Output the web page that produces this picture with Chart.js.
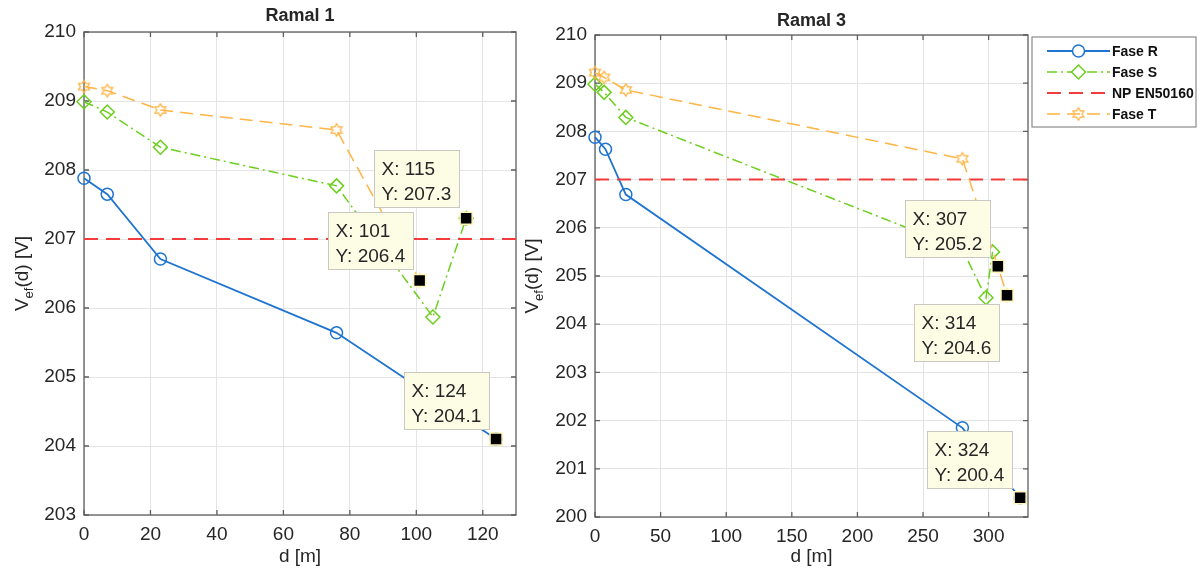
<!DOCTYPE html>
<html>
<head>
<meta charset="utf-8">
<title>Ramal 1 / Ramal 3</title>
<script src="https://cdn.jsdelivr.net/npm/chart.js@4.4.1/dist/chart.umd.min.js"></script>
<style>
  body { margin: 0; background: #fff; }
  #wrap { position: relative; width: 1202px; height: 572px; background: #fff; }
  #wrap canvas { position: absolute; top: 0; }
  #ramal1 { left: 0; }
  #ramal3 { left: 518px; }
</style>
</head>
<body>
<div id="wrap">
  <canvas id="ramal1" width="518" height="572"></canvas>
  <canvas id="ramal3" width="684" height="572"></canvas>
</div>
<script>
const FONT = '"Liberation Sans", Arial, Helvetica, sans-serif';
const TEXT = '#262626';
const AXIS = '#5e5e5e';
const GRID = '#e4e4e4';

// Ramal 1  (d [m] / V [V])
const r1DistR = [0, 7, 23, 76, 124];
const r1VoltR = [207.88, 207.65, 206.71, 205.64, 204.1];
const r1DistS = [0, 7, 23, 76, 105, 115];
const r1VoltS = [208.99, 208.84, 208.33, 207.77, 205.87, 207.3];
const r1DistT = [0, 7, 23, 76, 101];
const r1VoltT = [209.21, 209.15, 208.87, 208.58, 206.4];
const r1TipX = [115, 101, 124];
const r1TipY = [207.3, 206.4, 204.1];
const r1XRange = [0, 130];
const r1YRange = [203, 210];
const r1XTicks = [0, 20, 40, 60, 80, 100, 120];
const r1YTicks = [203, 204, 205, 206, 207, 208, 209, 210];

// Ramal 3
const r3DistR = [0, 8, 23.5, 280, 324];
const r3VoltR = [207.88, 207.63, 206.69, 201.85, 200.4];
const r3DistS = [0, 7, 23.5, 280, 298, 303];
const r3VoltS = [208.98, 208.81, 208.29, 205.55, 204.55, 205.5];
const r3DistT = [0, 7, 23.5, 280, 307, 314];
const r3VoltT = [209.22, 209.12, 208.86, 207.43, 205.2, 204.6];
const r3TipX = [307, 314, 324];
const r3TipY = [205.2, 204.6, 200.4];
const r3XRange = [0, 330];
const r3YRange = [200, 210];
const r3XTicks = [0, 50, 100, 150, 200, 250, 300];
const r3YTicks = [200, 201, 202, 203, 204, 205, 206, 207, 208, 209, 210];

const limitVolt = 207; // NP EN50160
const seriesNames = ['Fase R', 'Fase S', 'NP EN50160', 'Fase T'];

function makeHexagram(color) {
    const c = document.createElement('canvas');
    c.width = c.height = 16;
    const g = c.getContext('2d');
    g.strokeStyle = color;
    g.lineWidth = 1.3;
    g.beginPath();
    for (let k = 0; k < 12; k++) {
        const r = k % 2 ? 3.6 : 6.3;
        const a = -Math.PI / 2 + k * Math.PI / 6;
        const px = 8 + r * Math.cos(a), py = 8 + r * Math.sin(a);
        if (k === 0) g.moveTo(px, py); else g.lineTo(px, py);
    }
    g.closePath();
    g.stroke();
    return c;
}

const seriesStyle = [
    { color: '#1f74d1', width: 1.8, dash: [], marker: 'circle', radius: 6 },
    { color: '#6ccf1d', width: 1.5, dash: [10, 4, 2, 4], marker: 'rectRot', radius: 7 },
    { color: '#f23b3b', width: 2, dash: [14, 8], marker: 'circle', radius: 0 },
    { color: '#ffb444', width: 1.5, dash: [13, 7], marker: makeHexagram('#ffb444'), radius: 7 }
];

function series(i, xs, ys) {
    const s = seriesStyle[i];
    return {
        label: seriesNames[i],
        data: xs.map((x, k) => ({ x: x, y: ys[k] })),
        order: 4 - i, // R at the bottom, T above, like MATLAB
        borderColor: s.color,
        borderWidth: s.width,
        borderDash: s.dash,
        pointStyle: s.marker,
        pointRadius: s.radius,
        pointBorderColor: s.color,
        pointBorderWidth: 1.5,
        pointBackgroundColor: 'rgba(0,0,0,0)',
        tension: 0,
        fill: false,
        clip: false
    };
}

function tipSeries(xs, ys) {
    return {
        label: 'tips',
        data: xs.map((x, k) => ({ x: x, y: ys[k] })),
        order: 0,
        showLine: false,
        pointStyle: 'rect',
        pointRadius: 8.5,
        pointBackgroundColor: '#000',
        pointBorderColor: '#fff5b8',
        pointBorderWidth: 1.5,
        clip: false
    };
}

// MATLAB-like frame: box, inward ticks, title, y label, datatips, legend
const matlabFrame = {
    id: 'matlabFrame',
    beforeDatasetsDraw(chart, args, opts) {
        const { ctx, chartArea: a, scales: { x, y } } = chart;
        ctx.save();
        ctx.strokeStyle = AXIS;
        ctx.lineWidth = 1.3;
        ctx.strokeRect(a.left, a.top, a.right - a.left, a.bottom - a.top);
        ctx.beginPath();
        x.ticks.forEach(t => {
            const px = x.getPixelForValue(t.value);
            ctx.moveTo(px, a.bottom); ctx.lineTo(px, a.bottom - 5);
            ctx.moveTo(px, a.top); ctx.lineTo(px, a.top + 5);
        });
        y.ticks.forEach(t => {
            const py = y.getPixelForValue(t.value);
            ctx.moveTo(a.left, py); ctx.lineTo(a.left + 5, py);
            ctx.moveTo(a.right, py); ctx.lineTo(a.right - 5, py);
        });
        ctx.stroke();

        ctx.fillStyle = TEXT;
        ctx.font = 'bold 18px ' + FONT;
        ctx.textAlign = 'center';
        ctx.textBaseline = 'middle';
        ctx.fillText(opts.title, (a.left + a.right) / 2, opts.titleY);

        // V_ef(d) [V], rotated, with subscript
        const parts = [['V', 19, 0], ['ef', 13, 5], ['(d) [V]', 19, 0]];
        ctx.translate(opts.yLabelX, (a.top + a.bottom) / 2);
        ctx.rotate(-Math.PI / 2);
        ctx.textAlign = 'left';
        ctx.textBaseline = 'alphabetic';
        let total = 0;
        parts.forEach(p => { ctx.font = p[1] + 'px ' + FONT; total += ctx.measureText(p[0]).width; });
        let cx = -total / 2;
        parts.forEach(p => {
            ctx.font = p[1] + 'px ' + FONT;
            ctx.fillText(p[0], cx, p[2]);
            cx += ctx.measureText(p[0]).width;
        });
        ctx.restore();
    },
    afterDatasetsDraw(chart, args, opts) {
        const ctx = chart.ctx;
        const meta = chart.getDatasetMeta(4);
        const ds = chart.data.datasets[4].data;
        ctx.save();
        meta.data.forEach((pt, i) => {
            const bx = Math.round(pt.x + opts.tipOffsets[i][0]) + 0.5;
            const by = Math.round(pt.y + opts.tipOffsets[i][1]) + 0.5;
            ctx.fillStyle = '#fdfde6';
            ctx.strokeStyle = '#c9c9c2';
            ctx.lineWidth = 1;
            ctx.fillRect(bx, by, 85, 57);
            ctx.strokeRect(bx, by, 85, 57);
            ctx.fillStyle = TEXT;
            ctx.font = '19px ' + FONT;
            ctx.textAlign = 'left';
            ctx.textBaseline = 'alphabetic';
            ctx.fillText('X: ' + ds[i].x, bx + 7, by + 24);
            ctx.fillText('Y: ' + ds[i].y.toFixed(1), bx + 7, by + 49);
        });
        ctx.restore();

        if (opts.legend) drawLegend(ctx, opts.legend);
    }
};

function drawLegend(ctx, L) {
    ctx.save();
    ctx.fillStyle = '#fff';
    ctx.strokeStyle = '#8a8a8a';
    ctx.lineWidth = 1.2;
    ctx.fillRect(L.x, L.y, L.w, L.h);
    ctx.strokeRect(L.x, L.y, L.w, L.h);
    seriesNames.forEach((name, i) => {
        const s = seriesStyle[i];
        const ry = L.y + L.first + i * L.step;
        ctx.strokeStyle = s.color;
        ctx.lineWidth = s.width;
        ctx.setLineDash(s.dash);
        ctx.beginPath();
        ctx.moveTo(L.x0, ry);
        ctx.lineTo(L.x1, ry);
        ctx.stroke();
        ctx.setLineDash([]);
        if (s.radius > 0) {
            ctx.fillStyle = '#fff';
            ctx.lineWidth = 1.5;
            Chart.helpers.drawPoint(ctx, { pointStyle: s.marker, radius: s.radius, borderWidth: 1.5, rotation: 0 }, (L.x0 + L.x1) / 2, ry);
        }
        ctx.fillStyle = '#111';
        ctx.font = 'bold 14px ' + FONT;
        ctx.textAlign = 'left';
        ctx.textBaseline = 'middle';
        ctx.fillText(name, L.x1 + 2, ry + 1);
    });
    ctx.restore();
}

function makeChart(id, d, cfg) {
    const tickFont = { family: FONT, size: 19 };
    return new Chart(document.getElementById(id), {
        type: 'line',
        data: {
            datasets: [
                series(0, d.dR, d.vR),
                series(1, d.dS, d.vS),
                series(2, d.xRange, [limitVolt, limitVolt]),
                series(3, d.dT, d.vT),
                tipSeries(d.tipX, d.tipY)
            ]
        },
        options: {
            responsive: false,
            animation: false,
            events: [],
            layout: { autoPadding: false, padding: { top: cfg.top, right: cfg.right, left: 0, bottom: 0 } },
            plugins: {
                legend: { display: false },
                tooltip: { enabled: false },
                matlabFrame: cfg.frame
            },
            scales: {
                x: {
                    type: 'linear',
                    min: d.xRange[0],
                    max: d.xRange[1],
                    afterBuildTicks: s => { s.ticks = d.xTicks.map(v => ({ value: v })); },
                    afterFit: s => { s.height = cfg.xHeight; s.paddingLeft = 0; s.paddingRight = 0; },
                    grid: { color: GRID, drawTicks: false },
                    border: { display: false },
                    ticks: { color: TEXT, font: tickFont, padding: 8, maxRotation: 0, autoSkip: false },
                    title: { display: true, text: 'd [m]', color: TEXT, font: tickFont, padding: { top: 0, bottom: 4 } }
                },
                y: {
                    min: d.yRange[0],
                    max: d.yRange[1],
                    afterBuildTicks: s => { s.ticks = d.yTicks.map(v => ({ value: v })); },
                    afterFit: s => { s.width = cfg.yWidth; s.paddingTop = 0; s.paddingBottom = 0; },
                    grid: { color: GRID, drawTicks: false },
                    border: { display: false },
                    ticks: { color: TEXT, font: tickFont, padding: 8 }
                }
            }
        },
        plugins: [matlabFrame]
    });
}

makeChart('ramal1', {
    dR: r1DistR, vR: r1VoltR, dS: r1DistS, vS: r1VoltS, dT: r1DistT, vT: r1VoltT,
    tipX: r1TipX, tipY: r1TipY, xRange: r1XRange, yRange: r1YRange, xTicks: r1XTicks, yTicks: r1YTicks
}, {
    top: 32, right: 2, xHeight: 57, yWidth: 84,
    frame: { title: 'Ramal 1', titleY: 16, yLabelX: 28, tipOffsets: [[-92, -68], [-92, -68], [-92, -67]] }
});

makeChart('ramal3', {
    dR: r3DistR, vR: r3VoltR, dS: r3DistS, vS: r3VoltS, dT: r3DistT, vT: r3VoltT,
    tipX: r3TipX, tipY: r3TipY, xRange: r3XRange, yRange: r3YRange, xTicks: r3XTicks, yTicks: r3YTicks
}, {
    top: 35, right: 174, xHeight: 55, yWidth: 77,
    frame: {
        title: 'Ramal 3', titleY: 21, yLabelX: 20,
        tipOffsets: [[-93, -66], [-93, 9], [-93, -67]],
        legend: { x: 514, y: 37, w: 164, h: 90, first: 14, step: 21, x0: 529, x1: 592 }
    }
});
</script>
</body>
</html>
